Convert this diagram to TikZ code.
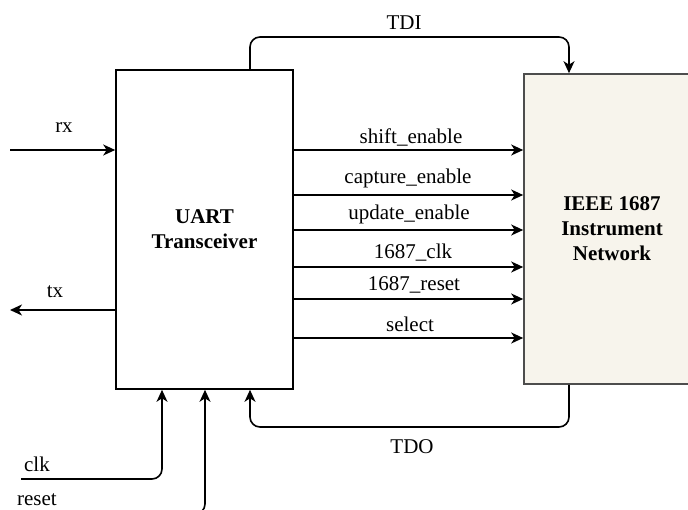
\documentclass[tikz,border=0pt]{standalone}
\usepackage{fontspec}
\setmainfont{Liberation Serif}
\usetikzlibrary{arrows.meta,calc}
\definecolor{netfill}{HTML}{F7F4EC}
\definecolor{netdraw}{HTML}{4D4D4D}
\tikzset{
  sig/.style={line width=1.6pt, -{Stealth[length=12pt,width=11pt,inset=3.5pt]}, rounded corners=10pt},
  lbl/.style={inner sep=0pt, font=\fontsize{21}{25}\selectfont},
  blk/.style={draw, line width=1.6pt, align=center, font=\fontsize{21}{25}\selectfont\bfseries, inner sep=0pt}
}
\begin{document}
\begin{tikzpicture}[x=1pt,y=-1pt]
\useasboundingbox (0,0) rectangle (688,510);
\clip (0,0) rectangle (688,510);
\node[blk, minimum width=177pt, minimum height=319pt] (uart) at (204.5,229.5) {UART\\Transceiver};
\node[blk, draw=netdraw, fill=netfill, minimum width=176pt, minimum height=310pt] (ieee) at (612,229) {IEEE 1687\\Instrument\\Network};
% y-level coordinates
\coordinate (yshift) at (0,150);
\coordinate (ycap) at (0,195);
\coordinate (yupd) at (0,230);
\coordinate (yclk) at (0,267);
\coordinate (yrst) at (0,299);
\coordinate (ysel) at (0,338);
\coordinate (ytx) at (0,310);
% free ends
\coordinate (rxin) at (10,150);
\coordinate (txout) at (10,310);
\coordinate (clkin) at (21,479);
\coordinate (rstin) at (150,514);
\coordinate (xa) at (250,0);
\coordinate (xb) at (569,0);
\coordinate (xclk) at (162,0);
\coordinate (xrst) at (205,0);
\coordinate (tdiy) at (0,37);
\coordinate (tdoy) at (0,427);
% signal arrows
\draw[sig] (uart.east |- yshift) -- (ieee.west |- yshift);
\draw[sig] (uart.east |- ycap) -- (ieee.west |- ycap);
\draw[sig] (uart.east |- yupd) -- (ieee.west |- yupd);
\draw[sig] (uart.east |- yclk) -- (ieee.west |- yclk);
\draw[sig] (uart.east |- yrst) -- (ieee.west |- yrst);
\draw[sig] (uart.east |- ysel) -- (ieee.west |- ysel);
\draw[sig] (rxin) -- (uart.west |- rxin);
\draw[sig] (uart.west |- ytx) -- (txout);
\draw[sig] (uart.north -| xa) -- (xa |- tdiy) -- (xb |- tdiy) -- (ieee.north -| xb);
\draw[sig] (ieee.south -| xb) -- (xb |- tdoy) -- (xa |- tdoy) -- (uart.south -| xa);
\draw[sig] (clkin) -- (xclk |- clkin) -- (uart.south -| xclk);
\draw[sig] (rstin) -- (xrst |- rstin) -- (uart.south -| xrst);
% labels
\node[lbl] (ltdi) at (404,23) {TDI};
\node[lbl] (ltdo) at (412,447) {TDO};
\node[lbl] (lrx) at (64,128) {rx};
\node[lbl] (ltx) at (55,292) {tx};
\node[lbl] (lclk) at (37,464) {clk};
\node[lbl] (lrst) at (37,500) {reset};
\node[lbl] (l1) at (411,137) {shift\_enable};
\node[lbl] (l2) at (408,178) {capture\_enable};
\node[lbl] (l3) at (409,214) {update\_enable};
\node[lbl] (l4) at (413,253) {1687\_clk};
\node[lbl] (l5) at (414,285) {1687\_reset};
\node[lbl] (l6) at (410,324) {select};
\end{tikzpicture}
\end{document}
